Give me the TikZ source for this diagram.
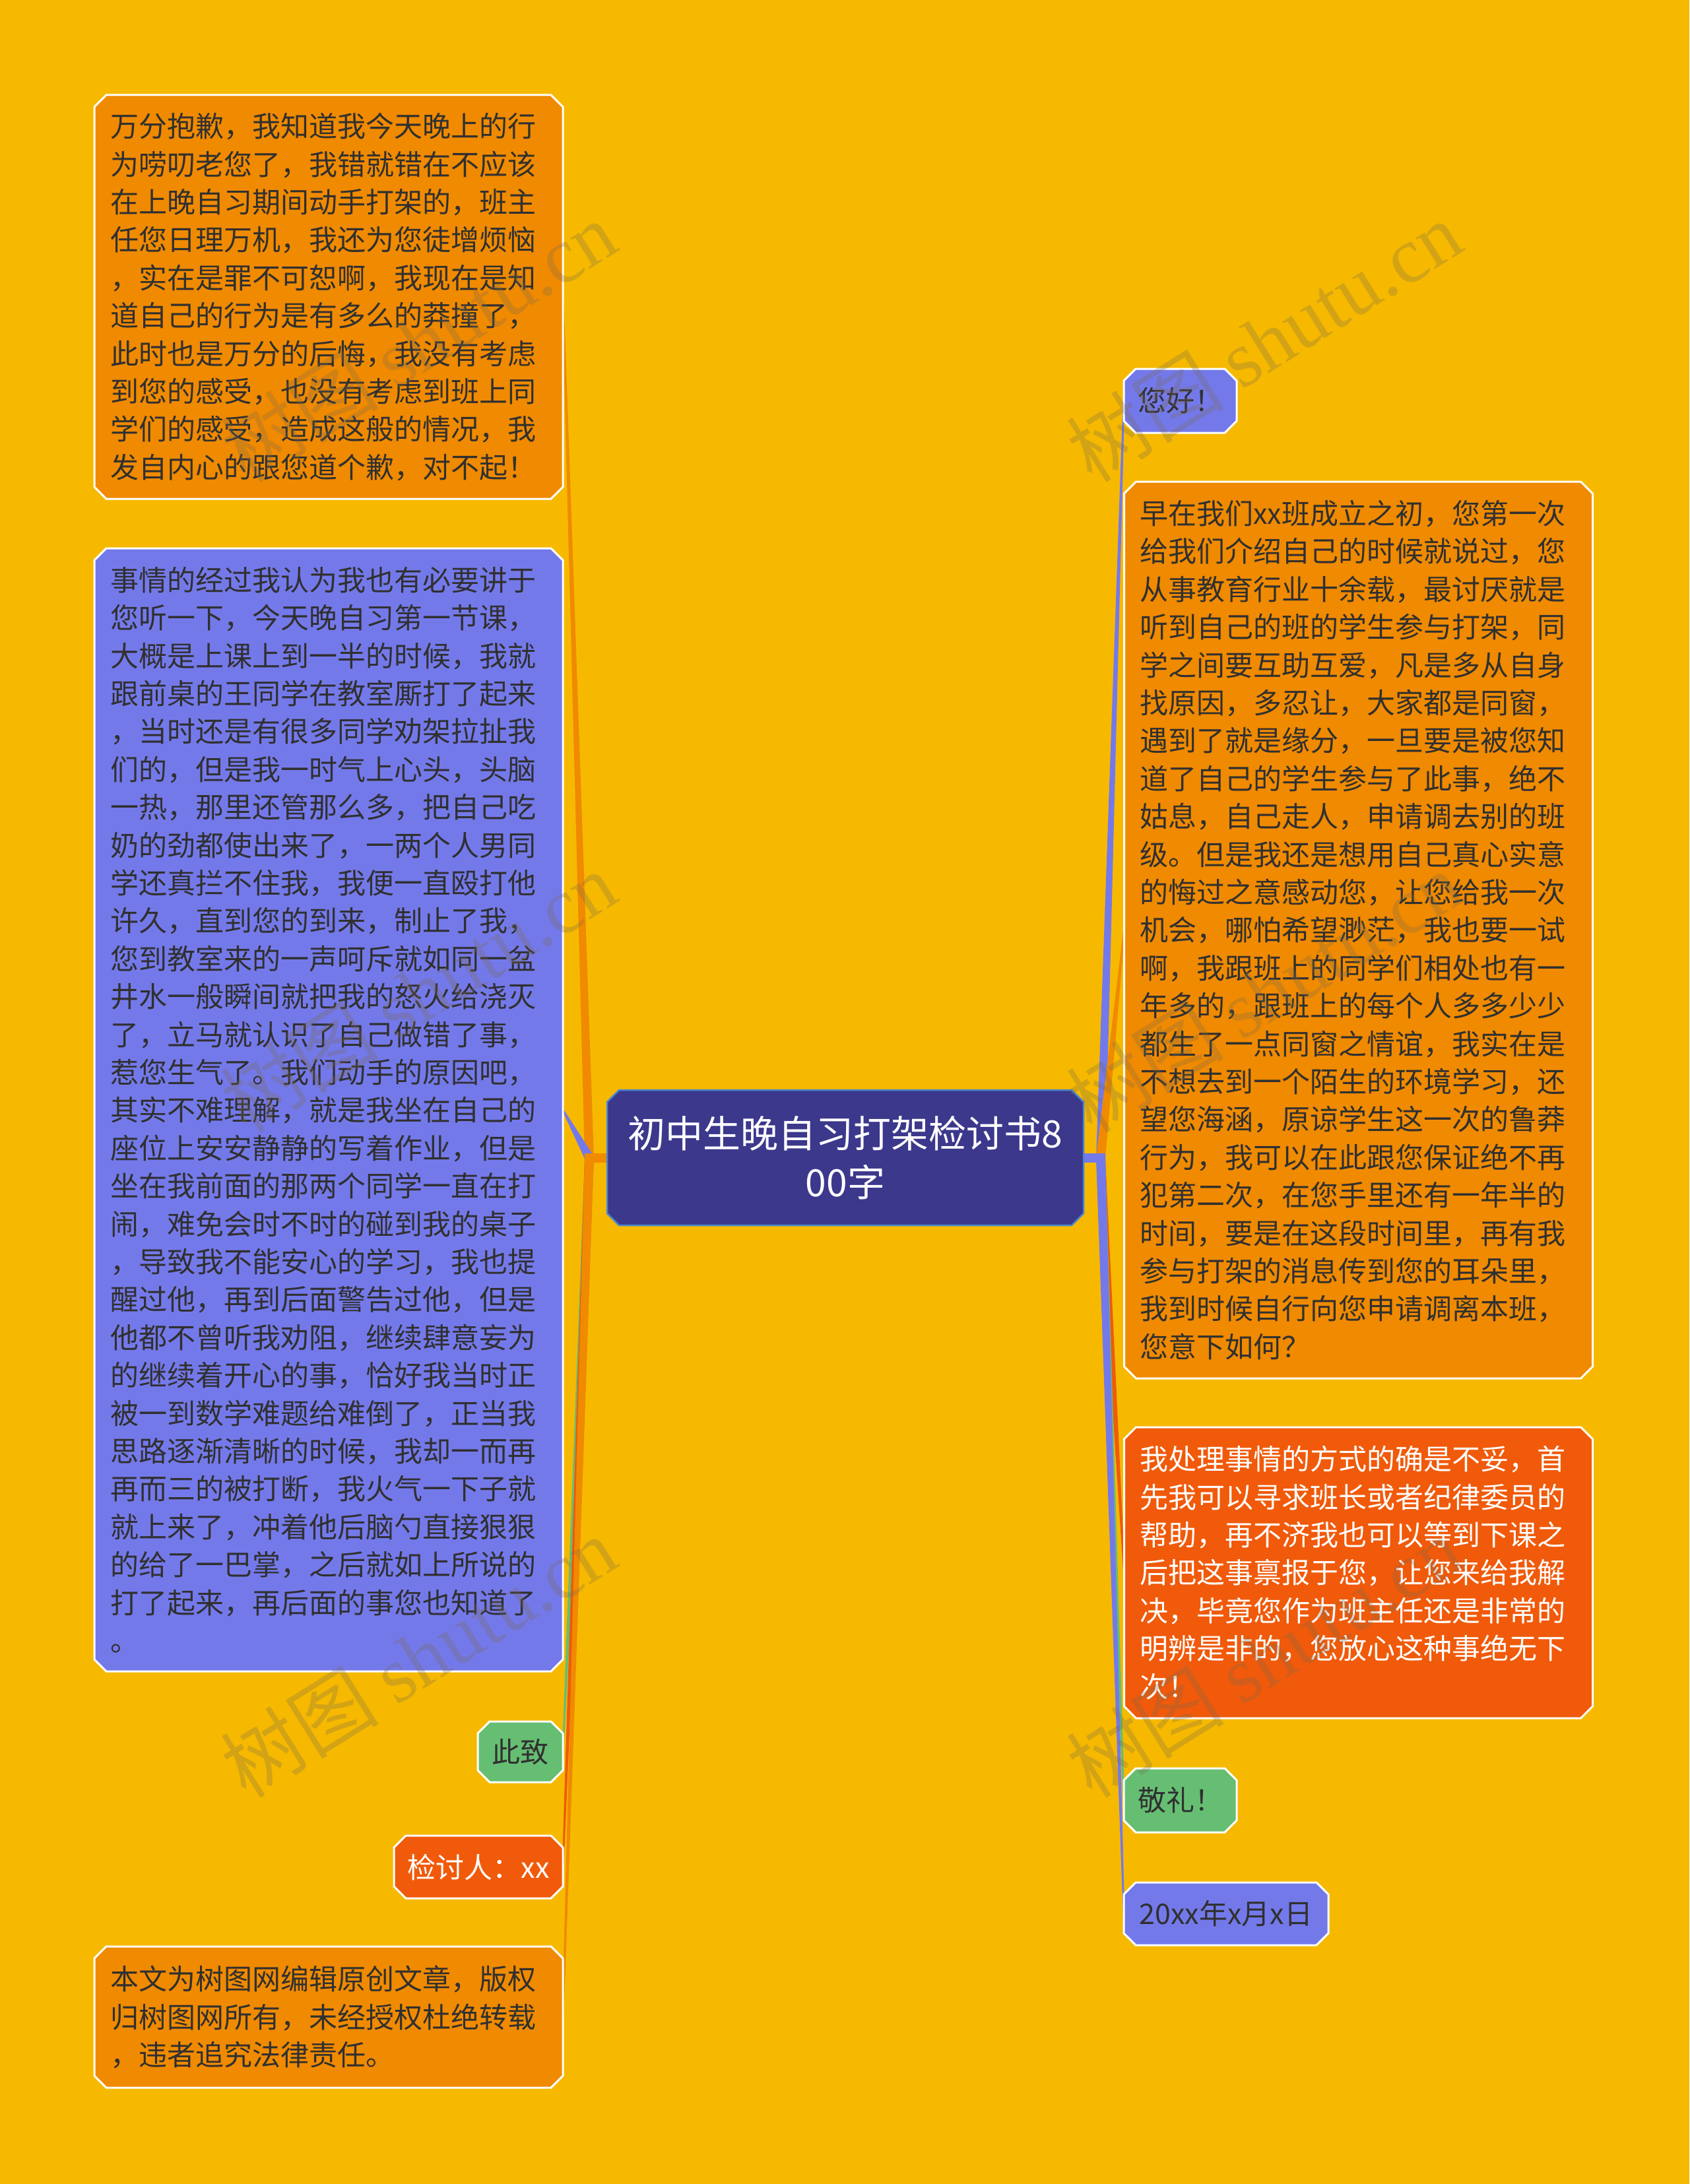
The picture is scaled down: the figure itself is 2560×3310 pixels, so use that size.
\documentclass[tikz,border=0pt]{standalone}
\usepackage{fontspec}
\setmainfont{Noto Sans CJK SC}
\newfontfamily\cjkfont{Noto Sans CJK SC}
\newfontfamily\wmfont{Liberation Serif}
\usetikzlibrary{calc}
\pgfdeclarelayer{bg}
\pgfsetlayers{bg,main}
\definecolor{bgc}{HTML}{F6B900}
\definecolor{corn}{HTML}{F08A00}
\definecolor{cblu}{HTML}{7479EA}
\definecolor{cred}{HTML}{F05A0A}
\definecolor{cgrn}{HTML}{66BE73}
\definecolor{cctr}{HTML}{3C388C}
\definecolor{cctrb}{HTML}{4A86D0}
\definecolor{ctxt}{HTML}{303030}
\definecolor{cwm}{HTML}{7A6A50}
\newcommand{\chbox}[4]{%
  \path[fill=#2,draw=#3,line width=#4,line join=miter]
  ([xshift=18pt]#1.north west) -- ([xshift=-18pt]#1.north east) --
  ([yshift=-18pt]#1.north east) -- ([yshift=18pt]#1.south east) --
  ([xshift=-18pt]#1.south east) -- ([xshift=18pt]#1.south west) --
  ([yshift=18pt]#1.south west) -- ([yshift=-18pt]#1.north west) -- cycle;}
\newcommand{\wedgeline}[3]{%
  \fill[#3] ($(#1)!7pt!90:(#2)$) -- ($(#2)!1.3pt!-90:(#1)$) --
  ($(#2)!1.3pt!90:(#1)$) -- ($(#1)!7pt!-90:(#2)$) -- cycle;}
\begin{document}
\begin{tikzpicture}[x=1pt,y=-1pt,
  bigbox/.style={inner xsep=24pt,inner ysep=0pt,outer sep=0pt,text width=662pt,
    align=left,font=\fontsize{43}{57.4}\selectfont,text=ctxt},
  smallbox/.style={inner sep=0pt,outer sep=0pt,align=center,
    font=\fontsize{43}{57.4}\selectfont,text=ctxt},
  wm/.style={text=cwm,opacity=0.28,rotate=32,inner sep=0pt,
    font=\fontsize{120}{120}\selectfont}]
\useasboundingbox (0,0) rectangle (2560,3310);

% centre
\node[smallbox,minimum width=722pt,minimum height=205pt,text=white,
  font=\fontsize{57}{74}\selectfont] (c) at (1281,1754.5)
  {初中生晚自习打架检讨书8\\00字};

% left nodes
\node[bigbox,minimum height=612pt] (L1) at (498,450) {万分抱歉，我知道我今天晚上的行\\
为唠叨老您了，我错就错在不应该\\
在上晚自习期间动手打架的，班主\\
任您日理万机，我还为您徒增烦恼\\
，实在是罪不可恕啊，我现在是知\\
道自己的行为是有多么的莽撞了，\\
此时也是万分的后悔，我没有考虑\\
到您的感受，也没有考虑到班上同\\
学们的感受，造成这般的情况，我\\
发自内心的跟您道个歉，对不起！};

\node[bigbox,minimum height=1702pt] (L2) at (498,1682) {事情的经过我认为我也有必要讲于\\
您听一下，今天晚自习第一节课，\\
大概是上课上到一半的时候，我就\\
跟前桌的王同学在教室厮打了起来\\
，当时还是有很多同学劝架拉扯我\\
们的，但是我一时气上心头，头脑\\
一热，那里还管那么多，把自己吃\\
奶的劲都使出来了，一两个人男同\\
学还真拦不住我，我便一直殴打他\\
许久，直到您的到来，制止了我，\\
您到教室来的一声呵斥就如同一盆\\
井水一般瞬间就把我的怒火给浇灭\\
了，立马就认识了自己做错了事，\\
惹您生气了。我们动手的原因吧，\\
其实不难理解，就是我坐在自己的\\
座位上安安静静的写着作业，但是\\
坐在我前面的那两个同学一直在打\\
闹，难免会时不时的碰到我的桌子\\
，导致我不能安心的学习，我也提\\
醒过他，再到后面警告过他，但是\\
他都不曾听我劝阻，继续肆意妄为\\
的继续着开心的事，恰好我当时正\\
被一到数学难题给难倒了，正当我\\
思路逐渐清晰的时候，我却一而再\\
再而三的被打断，我火气一下子就\\
就上来了，冲着他后脑勺直接狠狠\\
的给了一巴掌，之后就如上所说的\\
打了起来，再后面的事您也知道了\\
。};

\node[smallbox,minimum width=129pt,minimum height=92pt] (L3) at (788.5,2655) {此致};
\node[smallbox,minimum width=256pt,minimum height=95pt,text=white] (L4) at (725,2829.5) {检讨人：xx};
\node[bigbox,minimum height=214pt] (L5) at (498,3057) {本文为树图网编辑原创文章，版权\\
归树图网所有，未经授权杜绝转载\\
，违者追究法律责任。};

% right nodes
\node[smallbox,minimum width=171pt,minimum height=97pt] (R1) at (1788.5,607.5) {您好！};
\node[bigbox,minimum height=1359pt] (R2) at (2058.5,1409.5) {早在我们xx班成立之初，您第一次\\
给我们介绍自己的时候就说过，您\\
从事教育行业十余载，最讨厌就是\\
听到自己的班的学生参与打架，同\\
学之间要互助互爱，凡是多从自身\\
找原因，多忍让，大家都是同窗，\\
遇到了就是缘分，一旦要是被您知\\
道了自己的学生参与了此事，绝不\\
姑息，自己走人，申请调去别的班\\
级。但是我还是想用自己真心实意\\
的悔过之意感动您，让您给我一次\\
机会，哪怕希望渺茫，我也要一试\\
啊，我跟班上的同学们相处也有一\\
年多的，跟班上的每个人多多少少\\
都生了一点同窗之情谊，我实在是\\
不想去到一个陌生的环境学习，还\\
望您海涵，原谅学生这一次的鲁莽\\
行为，我可以在此跟您保证绝不再\\
犯第二次，在您手里还有一年半的\\
时间，要是在这段时间里，再有我\\
参与打架的消息传到您的耳朵里，\\
我到时候自行向您申请调离本班，\\
您意下如何？};
\node[bigbox,minimum height=441pt,text=white] (R3) at (2058.5,2383.5) {我处理事情的方式的确是不妥，首\\
先我可以寻求班长或者纪律委员的\\
帮助，再不济我也可以等到下课之\\
后把这事禀报于您，让您来给我解\\
决，毕竟您作为班主任还是非常的\\
明辨是非的，您放心这种事绝无下\\
次！};
\node[smallbox,minimum width=171pt,minimum height=97pt] (R4) at (1788.5,2728.5) {敬礼！};
\node[smallbox,minimum width=310pt,minimum height=95pt] (R5) at (1858,2900.5) {20xx年x月x日};

\coordinate (jl) at ([xshift=-27pt]c.west);
\coordinate (jr) at ([xshift=26pt]c.east);

\begin{pgfonlayer}{bg}
  \fill[bgc] (0,0) rectangle (2560,3310);
  % connectors left
  \wedgeline{jl}{L1.east}{corn}
  \wedgeline{jl}{L2.east}{cblu}
  \wedgeline{jl}{L3.east}{cgrn}
  \wedgeline{jl}{L4.east}{cred}
  \wedgeline{jl}{L5.east}{corn}
  \draw[corn,line width=14pt] (c.west) -- ([xshift=-7pt]jl);
  % connectors right
  \wedgeline{jr}{R1.west}{cblu}
  \wedgeline{jr}{R2.west}{corn}
  \wedgeline{jr}{R3.west}{cred}
  \wedgeline{jr}{R4.west}{cgrn}
  \wedgeline{jr}{R5.west}{cblu}
  \draw[cblu,line width=14pt] (c.east) -- ([xshift=7pt]jr);
  % node shapes
  \chbox{c}{cctr}{cctrb}{2.5pt}
  \chbox{L1}{corn}{white}{3pt}
  \chbox{L2}{cblu}{white}{3pt}
  \chbox{L3}{cgrn}{white}{3pt}
  \chbox{L4}{cred}{white}{3pt}
  \chbox{L5}{corn}{white}{3pt}
  \chbox{R1}{cblu}{white}{3pt}
  \chbox{R2}{corn}{white}{3pt}
  \chbox{R3}{cred}{white}{3pt}
  \chbox{R4}{cgrn}{white}{3pt}
  \chbox{R5}{cblu}{white}{3pt}
\end{pgfonlayer}

% watermarks
\node[wm] (w1) at (634,517) {\cjkfont 树图\ \wmfont shutu.cn};
\node[wm] (w2) at (1915,517) {\cjkfont 树图\ \wmfont shutu.cn};
\node[wm] (w3) at (634,1503) {\cjkfont 树图\ \wmfont shutu.cn};
\node[wm] (w4) at (1915,1503) {\cjkfont 树图\ \wmfont shutu.cn};
\node[wm] (w5) at (634,2511) {\cjkfont 树图\ \wmfont shutu.cn};
\node[wm] (w6) at (1915,2511) {\cjkfont 树图\ \wmfont shutu.cn};
\end{tikzpicture}
\end{document}
